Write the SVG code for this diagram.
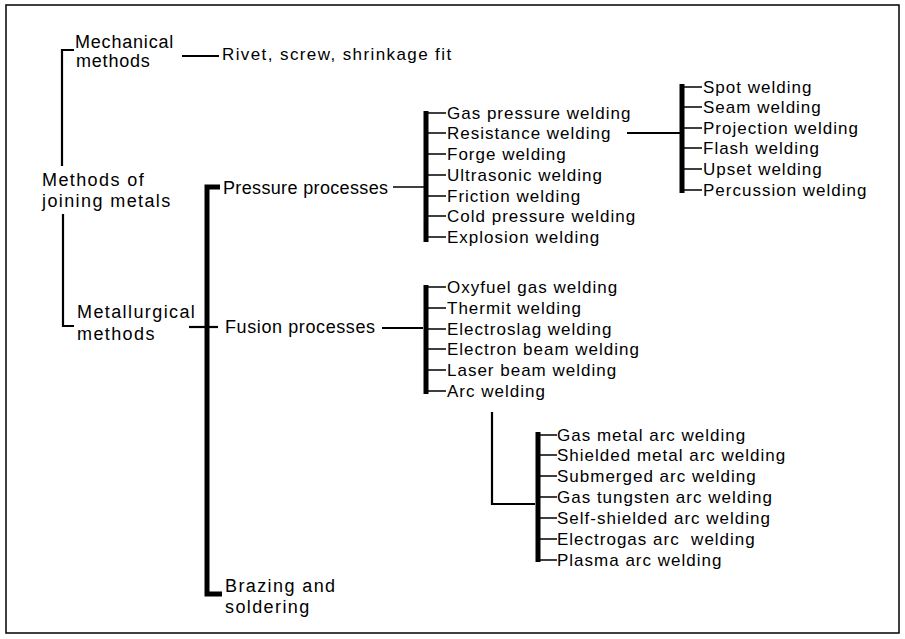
<svg xmlns="http://www.w3.org/2000/svg" width="905" height="639" viewBox="0 0 905 639">
<style>
text{font-family:"Liberation Sans",Arial,sans-serif;fill:#000;}
.t1{font-size:18px;letter-spacing:1.4px;}
.t2{font-size:18px;letter-spacing:0.6px;}
.li{font-size:17px;letter-spacing:1px;}
.c{fill:none;stroke:#000;stroke-width:2.2;}
.thin{fill:none;stroke:#000;stroke-width:1.5;}
.bar{fill:none;stroke:#000;stroke-width:5;}
</style>
<rect x="6" y="5" width="893" height="628" fill="#fff" stroke="#000" stroke-width="1.5"/>
<g id="connectors">
<path class="c" d="M74,50 H62 V166"/>
<path class="c" d="M63,214 V326 H74"/>
<path class="c" d="M182,56 H219"/>
<path class="c" d="M189,327 H218"/>
<path class="bar" d="M220,187 H207 V594 H222"/>
<path class="thin" d="M393,187 H424"/>
<path class="bar" d="M426,111 V242"/>
<path class="thin" d="M428,113 H446 M428,133 H446 M428,154 H446 M428,175 H446 M428,196 H446 M428,216 H446 M428,237 H446"/>
<path class="c" d="M627,133 H680"/>
<path class="bar" d="M682,84 V193"/>
<path class="thin" d="M684,87 H702 M684,107 H702 M684,128 H702 M684,148 H702 M684,169 H702 M684,190 H702"/>
<path class="c" d="M382,328 H423"/>
<path class="bar" d="M426,285 V394"/>
<path class="thin" d="M428,287 H446 M428,308 H446 M428,329 H446 M428,349 H446 M428,370 H446 M428,391 H446"/>
<path class="c" d="M492,412 V504 H535"/>
<path class="bar" d="M538,432 V562"/>
<path class="thin" d="M540,435 H557 M540,455 H557 M540,476 H557 M540,497 H557 M540,518 H557 M540,539 H557 M540,560 H557"/>
</g>
<g id="root"><text class="t1" x="42" y="186">Methods of</text><text class="t1" x="42" y="207">joining metals</text></g>
<g id="mechanical"><text class="t1" x="75" y="48" style="letter-spacing:0.8px">Mechanical</text><text class="t1" x="76" y="67" style="letter-spacing:0.8px">methods</text></g>
<g id="rivet"><text class="li" x="222" y="60" style="letter-spacing:1.4px">Rivet, screw, shrinkage fit</text></g>
<g id="metallurgical"><text class="t1" x="77" y="318">Metallurgical</text><text class="t1" x="77" y="340">methods</text></g>
<g id="pressure"><text class="t2" x="223" y="194" style="letter-spacing:0.35px">Pressure processes</text></g>
<g id="fusion"><text class="t2" x="225" y="333">Fusion processes</text></g>
<g id="brazing"><text class="t1" x="225" y="592">Brazing and</text><text class="t1" x="225" y="613">soldering</text></g>
<g id="pressure-list">
<text class="li" x="447" y="119">Gas pressure welding</text>
<text class="li" x="447" y="139">Resistance welding</text>
<text class="li" x="447" y="160">Forge welding</text>
<text class="li" x="447" y="181">Ultrasonic welding</text>
<text class="li" x="447" y="202">Friction welding</text>
<text class="li" x="447" y="222">Cold pressure welding</text>
<text class="li" x="447" y="243">Explosion welding</text>
</g>
<g id="resistance-list">
<text class="li" x="703" y="93">Spot welding</text>
<text class="li" x="703" y="113">Seam welding</text>
<text class="li" x="703" y="134">Projection welding</text>
<text class="li" x="703" y="154">Flash welding</text>
<text class="li" x="703" y="175">Upset welding</text>
<text class="li" x="703" y="196">Percussion welding</text>
</g>
<g id="fusion-list">
<text class="li" x="447" y="293">Oxyfuel gas welding</text>
<text class="li" x="447" y="314">Thermit welding</text>
<text class="li" x="447" y="335">Electroslag welding</text>
<text class="li" x="447" y="355">Electron beam welding</text>
<text class="li" x="447" y="376">Laser beam welding</text>
<text class="li" x="447" y="397">Arc welding</text>
</g>
<g id="arc-list">
<text class="li" x="557" y="441">Gas metal arc welding</text>
<text class="li" x="557" y="461">Shielded metal arc welding</text>
<text class="li" x="557" y="482">Submerged arc welding</text>
<text class="li" x="557" y="503">Gas tungsten arc welding</text>
<text class="li" x="557" y="524">Self-shielded arc welding</text>
<text class="li" x="557" y="545" xml:space="preserve" style="white-space:pre">Electrogas arc  welding</text>
<text class="li" x="557" y="566">Plasma arc welding</text>
</g>
</svg>
